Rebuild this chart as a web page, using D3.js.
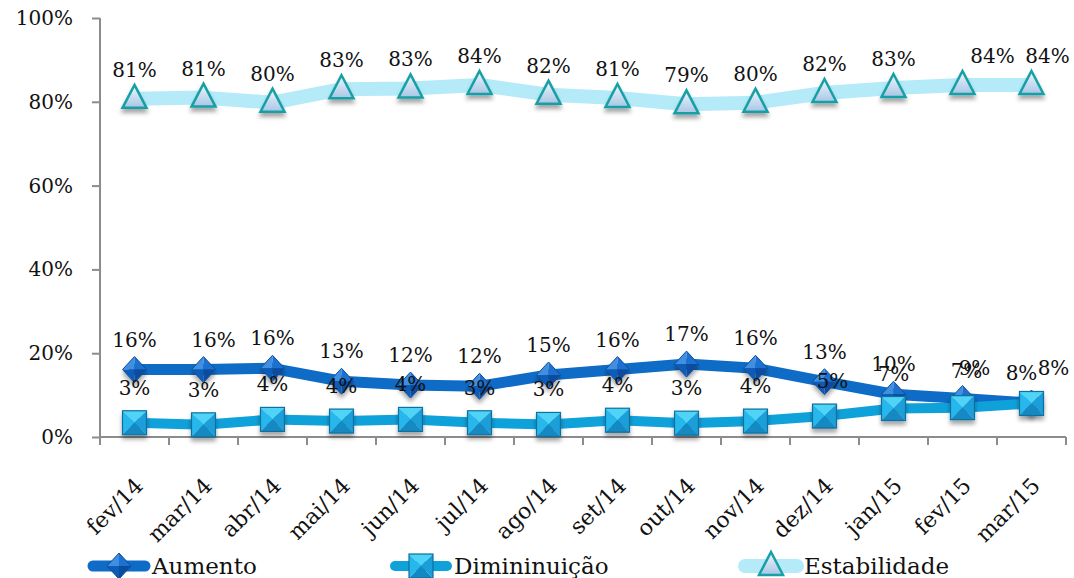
<!DOCTYPE html>
<html>
<head>
<meta charset="utf-8">
<script src="https://cdn.jsdelivr.net/npm/d3@7"></script>
<style>
  body { margin: 0; background: #fff; }
  svg { display: block; font-family: "DejaVu Serif", serif; }
</style>
</head>
<body>
<svg width="1074" height="578"></svg>
<script>
// data
var categories = ["fev/14","mar/14","abr/14","mai/14","jun/14","jul/14","ago/14","set/14","out/14","nov/14","dez/14","jan/15","fev/15","mar/15"];
var aumento      = [16.1, 16.1, 16.4, 13.3, 12.4, 12.1, 14.8, 16.1, 17.4, 16.4, 13.2, 10.2, 9.2, 8.1];
var diminuicao   = [3.4, 2.9, 4.2, 3.8, 4.2, 3.4, 3.0, 4.0, 3.3, 3.8, 5.0, 6.8, 7.0, 8.0];
var estabilidade = [80.7, 81.0, 79.8, 83.0, 83.2, 84.0, 81.7, 80.9, 79.4, 79.8, 82.1, 83.3, 84.0, 84.0];
var yTicks = [0, 20, 40, 60, 80, 100];

var width = 1074, height = 578;
var margin = {top: 18, left: 100, right: 8, bottom: 141};

var svg = d3.select("svg");

var x = d3.scaleBand()
    .domain(categories)
    .range([margin.left, width - margin.right]);

var y = d3.scaleLinear()
    .domain([0, 100])
    .range([height - margin.bottom, margin.top]);

var defs = svg.append("defs");
var shadow = defs.append("filter").attr("id", "shadow")
    .attr("x", "-50%").attr("y", "-50%").attr("width", "200%").attr("height", "200%");
shadow.append("feDropShadow")
    .attr("dx", 0).attr("dy", 4).attr("stdDeviation", 2)
    .attr("flood-color", "#000").attr("flood-opacity", 0.35);

var triGrad = defs.append("linearGradient").attr("id", "triGrad")
    .attr("x1", 0).attr("y1", 0).attr("x2", 0).attr("y2", 1);
triGrad.append("stop").attr("offset", "0%").attr("stop-color", "#eef7fc");
triGrad.append("stop").attr("offset", "100%").attr("stop-color", "#a9c6e6");

// axes
var axisColor = "#8c8c8c";
var yAxis = svg.append("g")
    .attr("transform", `translate(${margin.left},0)`)
    .call(d3.axisLeft(y).tickValues(yTicks).tickSize(8).tickPadding(19).tickFormat(d => d + "%"));
yAxis.select(".domain").attr("stroke", axisColor).attr("stroke-width", 2).attr("d", `M0,${y(100)}V${y(0)}`);
yAxis.selectAll(".tick line").attr("stroke", axisColor).attr("stroke-width", 2);
yAxis.selectAll(".tick text").attr("font-family", "DejaVu Serif").attr("font-size", 20).attr("fill", "#111");

var xAxis = svg.append("g")
    .attr("transform", `translate(0,${y(0)})`);
xAxis.append("line")
    .attr("x1", margin.left).attr("x2", width - margin.right)
    .attr("stroke", axisColor).attr("stroke-width", 2);
var bounds = categories.map(c => x(c)).concat([x(categories[categories.length - 1]) + x.bandwidth()]);
xAxis.selectAll(".xt").data(bounds).join("line")
    .attr("x1", d => d).attr("x2", d => d)
    .attr("y1", 0).attr("y2", 8)
    .attr("stroke", axisColor).attr("stroke-width", 2);
xAxis.selectAll(".xl").data(categories).join("text")
    .attr("transform", d => `translate(${x(d) + x.bandwidth() / 2 + 10},${50}) rotate(-45)`)
    .attr("text-anchor", "end")
    .attr("font-size", 22)
    .attr("fill", "#111")
    .text(d => d);

// marker shapes
function diamond(g) {
  var w = 12, h = 13;
  g.append("path").attr("d", `M0,0L${-w},0L0,${-h}Z`).attr("fill", "#3f8fe0");
  g.append("path").attr("d", `M0,0L0,${-h}L${w},0Z`).attr("fill", "#1c70d0");
  g.append("path").attr("d", `M0,0L${-w},0L0,${h}Z`).attr("fill", "#0d5cb8");
  g.append("path").attr("d", `M0,0L${w},0L0,${h}Z`).attr("fill", "#0a4c9e");
  g.append("path").attr("d", `M0,${-h}L${w},0L0,${h}L${-w},0Z`)
    .attr("fill", "none").attr("stroke", "#0a4f9f").attr("stroke-width", 1);
}
function square(g) {
  var s = 12;
  g.append("path").attr("d", `M0,0L${-s},${-s}L${s},${-s}Z`).attr("fill", "#4fd3f6");
  g.append("path").attr("d", `M0,0L${-s},${-s}L${-s},${s}Z`).attr("fill", "#26b8ec");
  g.append("path").attr("d", `M0,0L${s},${-s}L${s},${s}Z`).attr("fill", "#1a9ed8");
  g.append("path").attr("d", `M0,0L${-s},${s}L${s},${s}Z`).attr("fill", "#1488c2");
  g.append("rect").attr("x", -s).attr("y", -s).attr("width", 2 * s).attr("height", 2 * s)
    .attr("fill", "none").attr("stroke", "#0d6f9e").attr("stroke-width", 1.2);
}
function triangle(g) {
  g.append("path").attr("d", "M0,-14L12,9L-12,9Z")
    .attr("fill", "url(#triGrad)").attr("stroke", "#18a0a6").attr("stroke-width", 2.5)
    .attr("stroke-linejoin", "miter");
}

var series = [
  {name: "Aumento", values: aumento, color: "#0f6cc6", width: 11, marker: diamond, dy: -23},
  {name: "Dimininuição", values: diminuicao, color: "#0fa1da", width: 10, marker: square, dy: -28},
  {name: "Estabilidade", values: estabilidade, color: "#b5ebf9", width: 14, marker: triangle, dy: -22}
];

// small label nudges where Excel moved labels aside
var labelNudge = {
  "0:12": [12, 0], "0:13": [-10, 0], "0:1": [10, 0],
  "1:10": [8, 0], "1:12": [4, -2], "1:13": [22, 0],
  "2:12": [30, 0], "2:13": [16, 0]
};

var line = d3.line()
    .x((d, i) => x(categories[i]) + x.bandwidth() / 2)
    .y(d => y(d));

series.forEach(function(s) {
  svg.append("path")
      .datum(s.values)
      .attr("fill", "none")
      .attr("stroke", s.color)
      .attr("stroke-width", s.width)
      .attr("stroke-linejoin", "round")
      .attr("stroke-linecap", "round")
      .attr("d", line);
  svg.append("g").selectAll("g")
      .data(s.values)
      .join("g")
      .attr("transform", (d, i) => `translate(${x(categories[i]) + x.bandwidth() / 2},${y(d)})`)
      .attr("filter", "url(#shadow)")
      .each(function() { s.marker(d3.select(this)); });
});

// data labels
series.forEach(function(s, si) {
  svg.append("g").selectAll("text")
      .data(s.values)
      .join("text")
      .attr("x", (d, i) => x(categories[i]) + x.bandwidth() / 2 + ((labelNudge[si + ":" + i] || [0, 0])[0]))
      .attr("y", (d, i) => y(d) + s.dy + ((labelNudge[si + ":" + i] || [0, 0])[1]))
      .attr("text-anchor", "middle")
      .attr("font-size", 20)
      .attr("fill", "#111")
      .text(d => Math.round(d) + "%");
});

// legend
var legendX = [88, 390, 740];
var legend = svg.append("g").attr("transform", "translate(0,566)");
series.forEach(function(s, i) {
  var g = legend.append("g").attr("transform", `translate(${legendX[i]},0)`);
  g.append("line")
      .attr("x1", 5).attr("x2", 57)
      .attr("stroke", s.color).attr("stroke-width", s.width)
      .attr("stroke-linecap", "round");
  var m = g.append("g").attr("transform", "translate(31,0)");
  s.marker(m);
  g.append("text")
      .attr("x", 64).attr("y", 8)
      .attr("font-size", 23)
      .attr("fill", "#111")
      .text(s.name);
});
</script>
</body>
</html>
